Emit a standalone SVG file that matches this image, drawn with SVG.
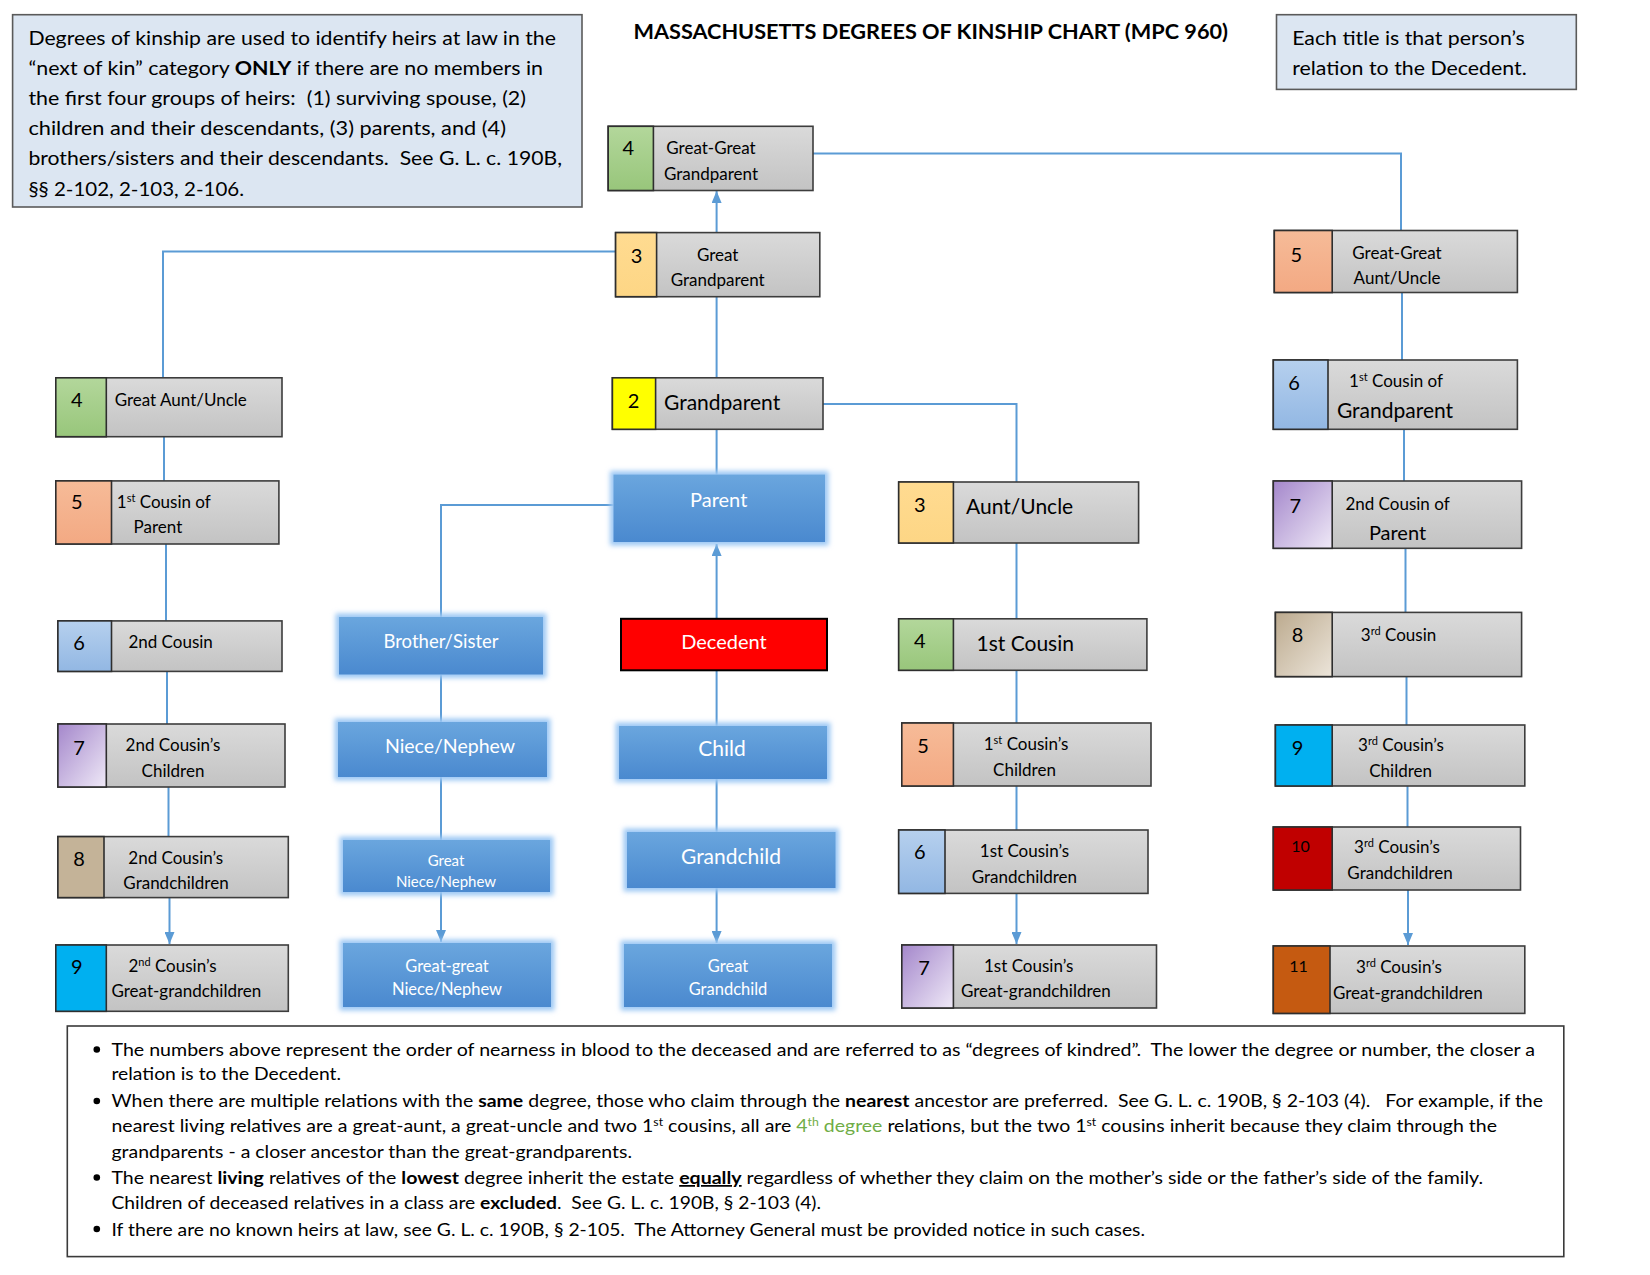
<svg xmlns="http://www.w3.org/2000/svg" width="1650" height="1275" viewBox="0 0 1650 1275">
<defs>
<style>
.t{font-family:Lato,"Liberation Sans",sans-serif;fill:#000}
.w{font-family:Lato,"Liberation Sans",sans-serif;fill:#fff}
.box{fill:url(#gGray);stroke:#3d3d3d;stroke-width:1.6}
.num{stroke:#2e2e2e;stroke-width:1.6}
.conn{stroke:#5b9bd5;stroke-width:2;fill:none}
.blue{fill:url(#gBlue)}
.glow{fill:#9cc8f4;filter:url(#blur)}
.info{fill:#dce6f2;stroke:#5a5a5a;stroke-width:1.6}
.s17{font-size:17px}
.s21{font-size:21px}
.n{font-size:20px;text-anchor:middle}
.m{text-anchor:middle}
.b{font-weight:bold}
</style>
<linearGradient id="gGray" x1="0" y1="0" x2="0" y2="1"><stop offset="0" stop-color="#dadada"/><stop offset="1" stop-color="#c3c3c3"/></linearGradient>
<linearGradient id="gBlue" x1="0" y1="0" x2="0" y2="1"><stop offset="0" stop-color="#6aa6de"/><stop offset="1" stop-color="#4a89cf"/></linearGradient>
<linearGradient id="gGreen" x1="0" y1="0" x2="0" y2="1"><stop offset="0" stop-color="#b3d79b"/><stop offset="1" stop-color="#98c67b"/></linearGradient>
<linearGradient id="gPeach" x1="0" y1="0" x2="0" y2="1"><stop offset="0" stop-color="#ffdb91"/><stop offset="1" stop-color="#fdd685"/></linearGradient>
<linearGradient id="gSalmon" x1="0" y1="0" x2="0" y2="1"><stop offset="0" stop-color="#f6bb98"/><stop offset="1" stop-color="#f3a983"/></linearGradient>
<linearGradient id="gLBlue" x1="0" y1="0" x2="0" y2="1"><stop offset="0" stop-color="#b6d0ee"/><stop offset="1" stop-color="#92b7e3"/></linearGradient>
<linearGradient id="gPurple" x1="0" y1="0" x2="1" y2="1"><stop offset="0" stop-color="#a487cb"/><stop offset="1" stop-color="#efe9f7"/></linearGradient>
<linearGradient id="gTan" x1="0" y1="0" x2="1" y2="1"><stop offset="0" stop-color="#bcaa8e"/><stop offset="1" stop-color="#ece5da"/></linearGradient>
<filter id="blur" x="-10%" y="-20%" width="120%" height="140%"><feGaussianBlur stdDeviation="2.5"/></filter>
<marker id="arr" viewBox="0 0 12 10" refX="12" refY="5" markerWidth="6" markerHeight="5" orient="auto" markerUnits="strokeWidth"><path d="M0,0 L12,5 L0,10 z" fill="#5b9bd5"/></marker>
<clipPath id="clipGN"><rect x="343" y="840" width="207" height="52"/></clipPath>
</defs>
<rect width="1650" height="1275" fill="#fff"/>

<!-- Connectors -->
<g id="connectors">
<path class="conn" d="M813,153.6 H1401 V230.5"/>
<path class="conn" d="M716.6,232.6 V191" marker-end="url(#arr)"/>
<path class="conn" d="M615.6,251.5 H163 V377.8"/>
<path class="conn" d="M716.6,296.7 V377.8"/>
<path class="conn" d="M823,404 H1016.5 V482"/>
<path class="conn" d="M716.6,429.3 V474.6"/>
<path class="conn" d="M716.6,618.8 V544" marker-end="url(#arr)"/>
<path class="conn" d="M613.5,505 H441 V617"/>
<path class="conn" d="M441,674.5 V722"/>
<path class="conn" d="M441,777 V840"/>
<path class="conn" d="M441,892 V942" marker-end="url(#arr)"/>
<path class="conn" d="M716.6,670 V726"/>
<path class="conn" d="M716.6,779 V832"/>
<path class="conn" d="M716.6,888 V943" marker-end="url(#arr)"/>
<path class="conn" d="M164,436.7 V481"/>
<path class="conn" d="M166,544 V621"/>
<path class="conn" d="M167,671.4 V724"/>
<path class="conn" d="M168.5,787 V836.6"/>
<path class="conn" d="M169.5,897.6 V944" marker-end="url(#arr)"/>
<path class="conn" d="M1016.5,543 V618.8"/>
<path class="conn" d="M1016.5,670.3 V723"/>
<path class="conn" d="M1016.5,786 V830"/>
<path class="conn" d="M1016.5,893.4 V944" marker-end="url(#arr)"/>
<path class="conn" d="M1402,292.5 V360"/>
<path class="conn" d="M1404,429.3 V481"/>
<path class="conn" d="M1405.5,548.3 V612.4"/>
<path class="conn" d="M1406.5,676.6 V725"/>
<path class="conn" d="M1407.5,786 V827"/>
<path class="conn" d="M1408,890 V945" marker-end="url(#arr)"/>
</g>

<!-- Info boxes and title -->
<g id="info-left">
<rect class="info" x="12.6" y="14.7" width="569.4" height="192.3"/>
<text class="t" font-size="19.5" x="28.4" y="45" textLength="527.5" lengthAdjust="spacingAndGlyphs">Degrees of kinship are used to identify heirs at law in the</text>
<text class="t" font-size="19.5" x="28.4" y="74.5" textLength="514.6" lengthAdjust="spacingAndGlyphs" xml:space="preserve">“next of kin” category <tspan class="b">ONLY</tspan> if there are no members in</text>
<text class="t" font-size="19.5" x="28.4" y="105" textLength="497.6" lengthAdjust="spacingAndGlyphs" xml:space="preserve">the first four groups of heirs:  (1) surviving spouse, (2)</text>
<text class="t" font-size="19.5" x="28.4" y="134.5" textLength="477.6" lengthAdjust="spacingAndGlyphs">children and their descendants, (3) parents, and (4)</text>
<text class="t" font-size="19.5" x="28.4" y="165" textLength="533.6" lengthAdjust="spacingAndGlyphs" xml:space="preserve">brothers/sisters and their descendants.  See G. L. c. 190B,</text>
<text class="t" font-size="19.5" x="28.4" y="195.5" textLength="215.6" lengthAdjust="spacingAndGlyphs">§§ 2-102, 2-103, 2-106.</text>
</g>
<g id="title">
<text class="t b" font-size="20" x="633.5" y="39" textLength="594.5" lengthAdjust="spacingAndGlyphs">MASSACHUSETTS DEGREES OF KINSHIP CHART (MPC 960)</text>
</g>
<g id="info-right">
<rect class="info" x="1276.5" y="14.7" width="299.8" height="74.7"/>
<text class="t" font-size="19.5" x="1292.2" y="45" textLength="232.6" lengthAdjust="spacingAndGlyphs">Each title is that person’s</text>
<text class="t" font-size="19.5" x="1292.2" y="74.5" textLength="234.6" lengthAdjust="spacingAndGlyphs">relation to the Decedent.</text>
</g>

<!-- Central line -->
<g id="n-great-great-grandparent">
<rect class="box" x="608.2" y="126.3" width="204.8" height="64.2"/>
<rect class="num" fill="url(#gGreen)" x="608.2" y="126.3" width="45.2" height="64.2"/>
<text class="t n" x="628.2" y="155">4</text>
<text class="t s17 m" x="711" y="153.5">Great-Great</text>
<text class="t s17 m" x="711" y="179.5">Grandparent</text>
</g>
<g id="n-great-grandparent">
<rect class="box" x="615.6" y="232.6" width="204.2" height="64.1"/>
<rect class="num" fill="url(#gPeach)" x="615.6" y="232.6" width="41" height="64.1"/>
<text class="t n" x="636.6" y="262.5">3</text>
<text class="t s17 m" x="717.7" y="260.8">Great</text>
<text class="t s17 m" x="717.7" y="286">Grandparent</text>
</g>
<g id="n-grandparent">
<rect class="box" x="612.4" y="377.8" width="210.6" height="51.5"/>
<rect class="num" fill="#ffff00" x="612.4" y="377.8" width="43.2" height="51.5"/>
<text class="t n" x="633.5" y="408">2</text>
<text class="t s21" x="664" y="409.5">Grandparent</text>
</g>
<g id="n-parent">
<rect class="glow" x="610" y="471" width="218.5" height="74.5"/>
<rect class="blue" x="613.5" y="474.6" width="211.5" height="67.4"/>
<text class="w m" font-size="20" x="718.7" y="507">Parent</text>
</g>
<g id="n-decedent">
<rect fill="#ff0000" stroke="#000" stroke-width="2" x="621" y="618.8" width="206" height="51.5"/>
<text class="w m" font-size="20" x="724" y="649">Decedent</text>
</g>
<g id="n-child">
<rect class="glow" x="615.5" y="722.5" width="215" height="60"/>
<rect class="blue" x="619" y="726" width="208" height="53"/>
<text class="w m" font-size="21" x="722" y="755.5">Child</text>
</g>
<g id="n-grandchild">
<rect class="glow" x="623.5" y="828.5" width="215.5" height="63"/>
<rect class="blue" x="627" y="832" width="208.5" height="56"/>
<text class="w m" font-size="21" x="731" y="864">Grandchild</text>
</g>
<g id="n-great-grandchild">
<rect class="glow" x="620.5" y="940.5" width="215" height="70"/>
<rect class="blue" x="624" y="944" width="208" height="63"/>
<text class="w m" font-size="16.5" x="728" y="971.5">Great</text>
<text class="w m" font-size="16.5" x="728" y="994.5">Grandchild</text>
</g>

<!-- Siblings line -->
<g id="n-brother-sister">
<rect class="glow" x="335.5" y="613.5" width="211" height="64.5"/>
<rect class="blue" x="339" y="617" width="204" height="57.5"/>
<text class="w m" font-size="18.5" x="441" y="647.5">Brother/Sister</text>
</g>
<g id="n-niece-nephew">
<rect class="glow" x="334.5" y="718.5" width="216" height="62"/>
<rect class="blue" x="338" y="722" width="209" height="55"/>
<text class="w m" font-size="19.5" x="450" y="752.5">Niece/Nephew</text>
</g>
<g id="n-great-niece-nephew">
<rect class="glow" x="339.5" y="836.5" width="214" height="59"/>
<rect class="blue" x="343" y="840" width="207" height="52"/>
<g clip-path="url(#clipGN)">
<text class="w m" font-size="15" x="446" y="865.5">Great</text>
<text class="w m" font-size="15" x="446" y="886.5">Niece/Nephew</text>
</g>
</g>
<g id="n-great-great-niece-nephew">
<rect class="glow" x="339.5" y="939.5" width="215" height="71"/>
<rect class="blue" x="343" y="943" width="208" height="64"/>
<text class="w m" font-size="16.5" x="447" y="971.5">Great-great</text>
<text class="w m" font-size="16.5" x="447" y="994.5">Niece/Nephew</text>
</g>

<!-- Left column -->
<g id="n-great-aunt-uncle">
<rect class="box" x="55.8" y="377.8" width="226.2" height="58.9"/>
<rect class="num" fill="url(#gGreen)" x="55.8" y="377.8" width="50.5" height="58.9"/>
<text class="t n" x="76.8" y="407">4</text>
<text class="t s17" x="114.7" y="406">Great Aunt/Uncle</text>
</g>
<g id="n-first-cousin-of-parent">
<rect class="box" x="55.8" y="480.9" width="223.1" height="63.1"/>
<rect class="num" fill="url(#gSalmon)" x="55.8" y="480.9" width="55.7" height="63.1"/>
<text class="t n" x="76.8" y="509">5</text>
<text class="t s17" x="116.8" y="508">1<tspan font-size="11" dy="-6">st</tspan><tspan dy="6"> Cousin of</tspan></text>
<text class="t s17" x="133.6" y="533">Parent</text>
</g>
<g id="n-second-cousin">
<rect class="box" x="57.9" y="620.9" width="224.1" height="50.5"/>
<rect class="num" fill="url(#gLBlue)" x="57.9" y="620.9" width="53.6" height="50.5"/>
<text class="t n" x="79" y="650">6</text>
<text class="t s17" x="128.4" y="648">2nd Cousin</text>
</g>
<g id="n-second-cousins-children">
<rect class="box" x="57.9" y="724" width="227.1" height="63"/>
<rect class="num" fill="url(#gPurple)" stroke-width="2.4" x="57.9" y="724" width="48.4" height="63"/>
<text class="t n" x="79" y="755">7</text>
<text class="t s17 m" x="173" y="751">2nd Cousin’s</text>
<text class="t s17 m" x="173" y="777">Children</text>
</g>
<g id="n-second-cousins-grandchildren">
<rect class="box" x="57.9" y="836.6" width="230.4" height="61"/>
<rect class="num" fill="#c4b398" x="57.9" y="836.6" width="46.1" height="61"/>
<text class="t n" x="79" y="865.5">8</text>
<text class="t s17 m" x="175.7" y="863.5">2nd Cousin’s</text>
<text class="t s17 m" x="176" y="889">Grandchildren</text>
</g>
<g id="n-second-cousins-great-grandchildren">
<rect class="box" x="55.8" y="945" width="232.5" height="66.3"/>
<rect class="num" fill="#00b0f0" x="55.8" y="945" width="50.5" height="66.3"/>
<text class="t n" x="76.8" y="974">9</text>
<text class="t s17" x="128.4" y="972">2<tspan font-size="11" dy="-6">nd</tspan><tspan dy="6"> Cousin’s</tspan></text>
<text class="t s17" x="111.5" y="997">Great-grandchildren</text>
</g>

<!-- Aunt/Uncle column -->
<g id="n-aunt-uncle">
<rect class="box" x="898.7" y="482" width="239.9" height="61"/>
<rect class="num" fill="url(#gPeach)" x="898.7" y="482" width="54.7" height="61"/>
<text class="t n" x="919.7" y="512">3</text>
<text class="t s21" x="966" y="513.5">Aunt/Uncle</text>
</g>
<g id="n-first-cousin">
<rect class="box" x="898.7" y="618.8" width="248.2" height="51.5"/>
<rect class="num" fill="url(#gGreen)" x="898.7" y="618.8" width="54.7" height="51.5"/>
<text class="t n" x="919.7" y="648">4</text>
<text class="t s21" x="976.5" y="650.5">1st Cousin</text>
</g>
<g id="n-first-cousins-children">
<rect class="box" x="901.8" y="723" width="249.2" height="63"/>
<rect class="num" fill="url(#gSalmon)" x="901.8" y="723" width="51.6" height="63"/>
<text class="t n" x="923" y="753">5</text>
<text class="t s17 m" x="1026" y="750">1<tspan font-size="11" dy="-6">st</tspan><tspan dy="6"> Cousin’s</tspan></text>
<text class="t s17 m" x="1024.5" y="776">Children</text>
</g>
<g id="n-first-cousins-grandchildren">
<rect class="box" x="898.7" y="830" width="249.3" height="63.4"/>
<rect class="num" fill="url(#gLBlue)" x="898.7" y="830" width="46.3" height="63.4"/>
<text class="t n" x="919.7" y="859">6</text>
<text class="t s17 m" x="1024.4" y="857">1st Cousin’s</text>
<text class="t s17 m" x="1024.4" y="882.5">Grandchildren</text>
</g>
<g id="n-first-cousins-great-grandchildren">
<rect class="box" x="901.8" y="945" width="254.7" height="63"/>
<rect class="num" fill="url(#gPurple)" stroke-width="2.4" x="901.8" y="945" width="51.6" height="63"/>
<text class="t n" x="924" y="975">7</text>
<text class="t s17" x="984" y="972">1st Cousin’s</text>
<text class="t s17" x="961" y="997">Great-grandchildren</text>
</g>

<!-- Right column -->
<g id="n-great-great-aunt-uncle">
<rect class="box" x="1274.3" y="230.5" width="243.1" height="62"/>
<rect class="num" fill="url(#gSalmon)" x="1274.3" y="230.5" width="57.9" height="62"/>
<text class="t n" x="1296.4" y="262">5</text>
<text class="t s17 m" x="1397" y="258.6">Great-Great</text>
<text class="t s17 m" x="1397" y="283.8">Aunt/Uncle</text>
</g>
<g id="n-first-cousin-of-grandparent">
<rect class="box" x="1273.3" y="360" width="244.1" height="69.3"/>
<rect class="num" fill="url(#gLBlue)" x="1273.3" y="360" width="54.7" height="69.3"/>
<text class="t n" x="1294" y="390">6</text>
<text class="t s17 m" x="1396" y="387">1<tspan font-size="11" dy="-6">st</tspan><tspan dy="6"> Cousin of</tspan></text>
<text class="t s21 m" x="1395" y="418">Grandparent</text>
</g>
<g id="n-second-cousin-of-parent">
<rect class="box" x="1273.3" y="481" width="248.3" height="67.3"/>
<rect class="num" fill="url(#gPurple)" stroke-width="2.4" x="1273.3" y="481" width="58.9" height="67.3"/>
<text class="t n" x="1295.4" y="513">7</text>
<text class="t s17 m" x="1397.5" y="510">2nd Cousin of</text>
<text class="t m" font-size="20" x="1397.5" y="539.5">Parent</text>
</g>
<g id="n-third-cousin">
<rect class="box" x="1275.4" y="612.4" width="246.2" height="64.2"/>
<rect class="num" fill="url(#gTan)" x="1275.4" y="612.4" width="56.8" height="64.2"/>
<text class="t n" x="1297.5" y="641.5">8</text>
<text class="t s17 m" x="1398.5" y="640.5">3<tspan font-size="11" dy="-6">rd</tspan><tspan dy="6"> Cousin</tspan></text>
</g>
<g id="n-third-cousins-children">
<rect class="box" x="1275.4" y="725" width="249.4" height="61"/>
<rect class="num" fill="#00b0f0" x="1275.4" y="725" width="56.8" height="61"/>
<text class="t n" x="1297.5" y="755">9</text>
<text class="t s17 m" x="1401" y="751">3<tspan font-size="11" dy="-6">rd</tspan><tspan dy="6"> Cousin’s</tspan></text>
<text class="t s17 m" x="1400.6" y="777">Children</text>
</g>
<g id="n-third-cousins-grandchildren">
<rect class="box" x="1273.3" y="827" width="247.2" height="63"/>
<rect class="num" fill="#c00000" x="1273.3" y="827" width="58.9" height="63"/>
<text class="t m" font-size="16" x="1300.6" y="852">10</text>
<text class="t s17 m" x="1397" y="853">3<tspan font-size="11" dy="-6">rd</tspan><tspan dy="6"> Cousin’s</tspan></text>
<text class="t s17 m" x="1400" y="879">Grandchildren</text>
</g>
<g id="n-third-cousins-great-grandchildren">
<rect class="box" x="1273.3" y="946" width="251.5" height="67.4"/>
<rect class="num" fill="#c55a11" x="1273.3" y="946" width="56.7" height="67.4"/>
<text class="t m" font-size="16" x="1298.5" y="972">11</text>
<text class="t s17" x="1356" y="973">3<tspan font-size="11" dy="-6">rd</tspan><tspan dy="6"> Cousin’s</tspan></text>
<text class="t s17" x="1333" y="999">Great-grandchildren</text>
</g>

<!-- Notes -->
<g id="notes">
<rect x="67.3" y="1026" width="1496.5" height="230.6" fill="#fff" stroke="#3a3a3a" stroke-width="1.6"/>
<circle cx="96.8" cy="1049.5" r="3.3" fill="#000"/>
<circle cx="96.8" cy="1101" r="3.3" fill="#000"/>
<circle cx="96.8" cy="1177.5" r="3.3" fill="#000"/>
<circle cx="96.8" cy="1229" r="3.3" fill="#000"/>
<text class="t" font-size="17.5" x="111.5" y="1055.7" textLength="1423.5" lengthAdjust="spacingAndGlyphs" xml:space="preserve">The numbers above represent the order of nearness in blood to the deceased and are referred to as “degrees of kindred”.  The lower the degree or number, the closer a</text>
<text class="t" font-size="17.5" x="111.5" y="1080" textLength="229.5" lengthAdjust="spacingAndGlyphs">relation is to the Decedent.</text>
<text class="t" font-size="17.5" x="111.5" y="1107" textLength="1431.5" lengthAdjust="spacingAndGlyphs" xml:space="preserve">When there are multiple relations with the <tspan class="b">same</tspan> degree, those who claim through the <tspan class="b">nearest</tspan> ancestor are preferred.  See G. L. c. 190B, § 2-103 (4).   For example, if the</text>
<text class="t" font-size="17.5" x="111.5" y="1131.5" textLength="1385.5" lengthAdjust="spacingAndGlyphs" xml:space="preserve">nearest living relatives are a great-aunt, a great-uncle and two 1<tspan font-size="11" dy="-6">st</tspan><tspan dy="6"> cousins, all are </tspan><tspan fill="#70ad47">4</tspan><tspan fill="#70ad47" font-size="11" dy="-6">th</tspan><tspan fill="#70ad47" dy="6"> degree</tspan> relations, but the two 1<tspan font-size="11" dy="-6">st</tspan><tspan dy="6"> cousins inherit because they claim through the</tspan></text>
<text class="t" font-size="17.5" x="111.5" y="1157.5" textLength="520.5" lengthAdjust="spacingAndGlyphs">grandparents - a closer ancestor than the great-grandparents.</text>
<text class="t" font-size="17.5" x="111.5" y="1184" textLength="1371.5" lengthAdjust="spacingAndGlyphs" xml:space="preserve">The nearest <tspan class="b">living</tspan> relatives of the <tspan class="b">lowest</tspan> degree inherit the estate <tspan class="b" text-decoration="underline">equally</tspan> regardless of whether they claim on the mother’s side or the father’s side of the family.</text>
<text class="t" font-size="17.5" x="111.5" y="1209" textLength="709.5" lengthAdjust="spacingAndGlyphs" xml:space="preserve">Children of deceased relatives in a class are <tspan class="b">excluded</tspan>.  See G. L. c. 190B, § 2-103 (4).</text>
<text class="t" font-size="17.5" x="111.5" y="1235.5" textLength="1033.5" lengthAdjust="spacingAndGlyphs" xml:space="preserve">If there are no known heirs at law, see G. L. c. 190B, § 2-105.  The Attorney General must be provided notice in such cases.</text>
</g>
</svg>
